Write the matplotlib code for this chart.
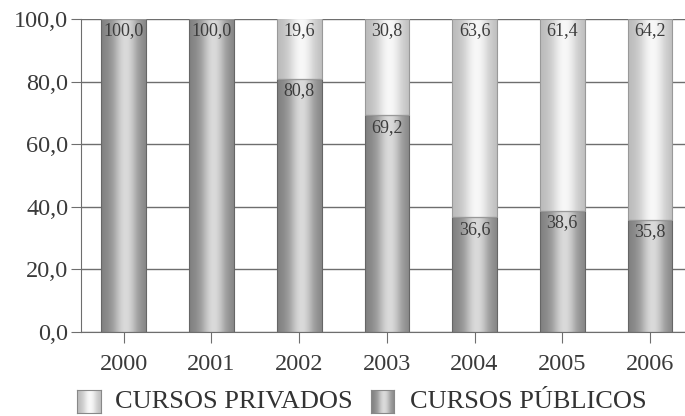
import numpy as np
import matplotlib
matplotlib.use("Agg")
import matplotlib.pyplot as plt
from matplotlib.colors import LinearSegmentedColormap

anos = ["2000", "2001", "2002", "2003", "2004", "2005", "2006"]
publicos = [100.0, 100.0, 80.8, 69.2, 36.6, 38.6, 35.8]
privados = [0.0, 0.0, 19.6, 30.8, 63.6, 61.4, 64.2]
yticks = [0, 20, 40, 60, 80, 100]

plt.rcParams['font.family'] = ['Liberation Serif', 'DejaVu Serif']

def virgula(v):
    return f"{v:.1f}".replace('.', ',')

# sombreado cilindrico das barras
perfil = np.linspace(0, 1, 64)
brilho = np.exp(-((perfil - 0.55) / 0.33) ** 2)
grad = brilho.reshape(1, -1)
cm_pub = LinearSegmentedColormap.from_list("pub", ["#7c7c7c", "#a2a2a2", "#dadada"])
cm_pri = LinearSegmentedColormap.from_list("pri", ["#b8b8b8", "#d4d4d4", "#f8f8f8"])

fig = plt.figure(figsize=(6.85, 4.16), dpi=100)
ax = fig.add_axes([0.118, 0.202, 0.882, 0.752])

x = np.arange(len(anos))
b_pub = ax.bar(x, publicos, width=0.51, color='none', edgecolor='#666666', lw=0.8, zorder=3)
b_pri = ax.bar(x, privados, width=0.51, bottom=publicos, color='none', edgecolor='#999999', lw=0.8, zorder=3)

for barras, cm in ((b_pub, cm_pub), (b_pri, cm_pri)):
    for p in barras:
        if p.get_height() <= 0:
            continue
        x0, y0 = p.get_x(), p.get_y()
        ax.imshow(grad, cmap=cm, vmin=0, vmax=1, aspect='auto', zorder=2,
                  extent=[x0, x0 + p.get_width(), y0, y0 + p.get_height()])

for i in range(len(anos)):
    ax.text(x[i], publicos[i] - 1.0, virgula(publicos[i]), ha='center', va='top',
            fontsize=13, color='#3c3c3c', zorder=4)
    if privados[i] > 0:
        ax.text(x[i], 100 - 1.0, virgula(privados[i]), ha='center', va='top',
                fontsize=13, color='#3c3c3c', zorder=4)

ax.set_xlim(-0.49, 6.4)
ax.set_ylim(0, 100)
ax.set_yticks(yticks)
ax.set_yticklabels([virgula(v) for v in yticks])
ax.set_xticks(x)
ax.set_xticklabels(anos)
ax.yaxis.grid(True, color='#6e6e6e', lw=1.0, zorder=0)
ax.set_axisbelow(True)
for s in ('top', 'right'):
    ax.spines[s].set_visible(False)
for s in ('left', 'bottom'):
    ax.spines[s].set_color('#6e6e6e')
ax.tick_params(axis='y', length=7, color='#6e6e6e', labelsize=17.5, labelcolor='#3a3a3a', pad=2)
ax.tick_params(axis='x', length=8, color='#6e6e6e', labelsize=17.5, labelcolor='#3a3a3a', pad=8)

# legenda com amostras sombreadas
for (cm, rot, xs, xt) in ((cm_pri, "CURSOS PRIVADOS", 0.113, 0.168),
                          (cm_pub, "CURSOS PÚBLICOS", 0.541, 0.598)):
    sw = fig.add_axes([xs, 0.008, 0.034, 0.054])
    sw.imshow(grad, cmap=cm, vmin=0, vmax=1, aspect='auto')
    sw.set_xticks([])
    sw.set_yticks([])
    for sp in sw.spines.values():
        sp.set_color('#888888')
    fig.text(xt, 0.034, rot, fontsize=19, color='#333333', va='center', ha='left')

fig.savefig("out.png", dpi=100)
